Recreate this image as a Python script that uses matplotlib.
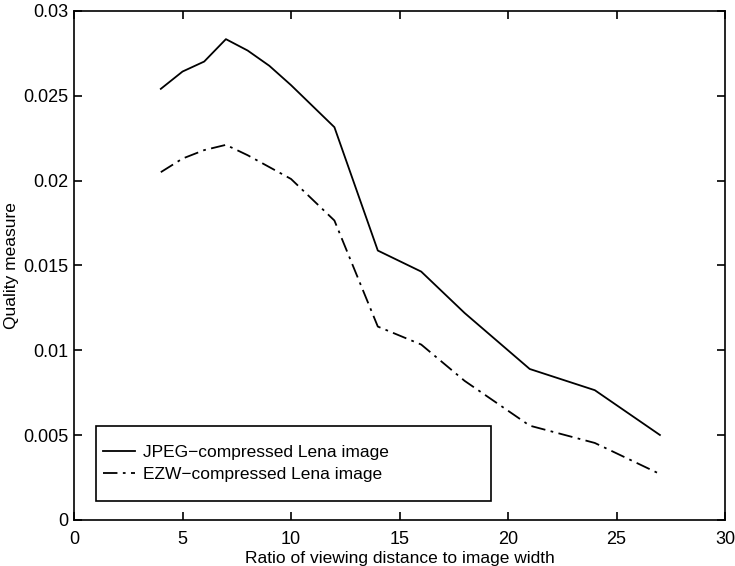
import numpy as np
import matplotlib
matplotlib.use("Agg")
import matplotlib.pyplot as plt
from matplotlib.patches import Rectangle

# dados
ratio = [4, 5, 6, 7, 8, 9, 10, 12, 14, 16, 18, 21, 24, 27]
jpeg = [0.02541, 0.02643, 0.02702, 0.02834, 0.02767, 0.02677, 0.02563,
        0.02315, 0.01588, 0.01464, 0.0122, 0.0089, 0.00765, 0.00501]
ezw = [0.0205, 0.0213, 0.0218, 0.02211, 0.0215, 0.0208, 0.0201,
       0.01765, 0.0114, 0.01034, 0.0082, 0.00556, 0.00454, 0.00271]

plt.rcParams['font.family'] = ['Liberation Sans', 'DejaVu Sans']
plt.rcParams['font.size'] = 12.5

fig = plt.figure(figsize=(7.35, 5.66), dpi=100)
ax = fig.add_axes([0.1007, 0.0813, 0.8857, 0.8993])

ax.plot(ratio, jpeg, color='black', linewidth=1.3, linestyle='-',
        label='JPEG\u2212compressed Lena image')
ax.plot(ratio, ezw, color='black', linewidth=1.3, linestyle=(0, (8, 3, 1.5, 3)),
        label='EZW\u2212compressed Lena image')

ax.set_xlim(0, 30)
ax.set_ylim(0, 0.03)
ax.set_xticks([0, 5, 10, 15, 20, 25, 30])
ax.set_yticks([0, 0.005, 0.01, 0.015, 0.02, 0.025, 0.03])
ax.set_yticklabels(['0', '0.005', '0.01', '0.015', '0.02', '0.025', '0.03'])
ax.tick_params(direction='in', top=True, right=True, length=6, width=1.2,
               labelsize=13)
ax.tick_params(axis='x', pad=8)
ax.tick_params(axis='y', pad=4)
for s in ax.spines.values():
    s.set_linewidth(1.2)

ax.set_xlabel('Ratio of viewing distance to image width', labelpad=2)
ax.set_ylabel('Quality measure', labelpad=3)

# caixa da legenda estilo matlab
ax.add_patch(Rectangle((0.034, 0.037), 0.607, 0.147, transform=ax.transAxes,
                       facecolor='white', edgecolor='black', linewidth=1.2,
                       zorder=4))
leg = ax.legend(loc='center left', bbox_to_anchor=(0.0445, 0.111),
                frameon=False, handlelength=1.85, handletextpad=0.45,
                labelspacing=0.35, borderpad=0, borderaxespad=0)
leg.set_zorder(5)

plt.savefig('out.png', dpi=100)
